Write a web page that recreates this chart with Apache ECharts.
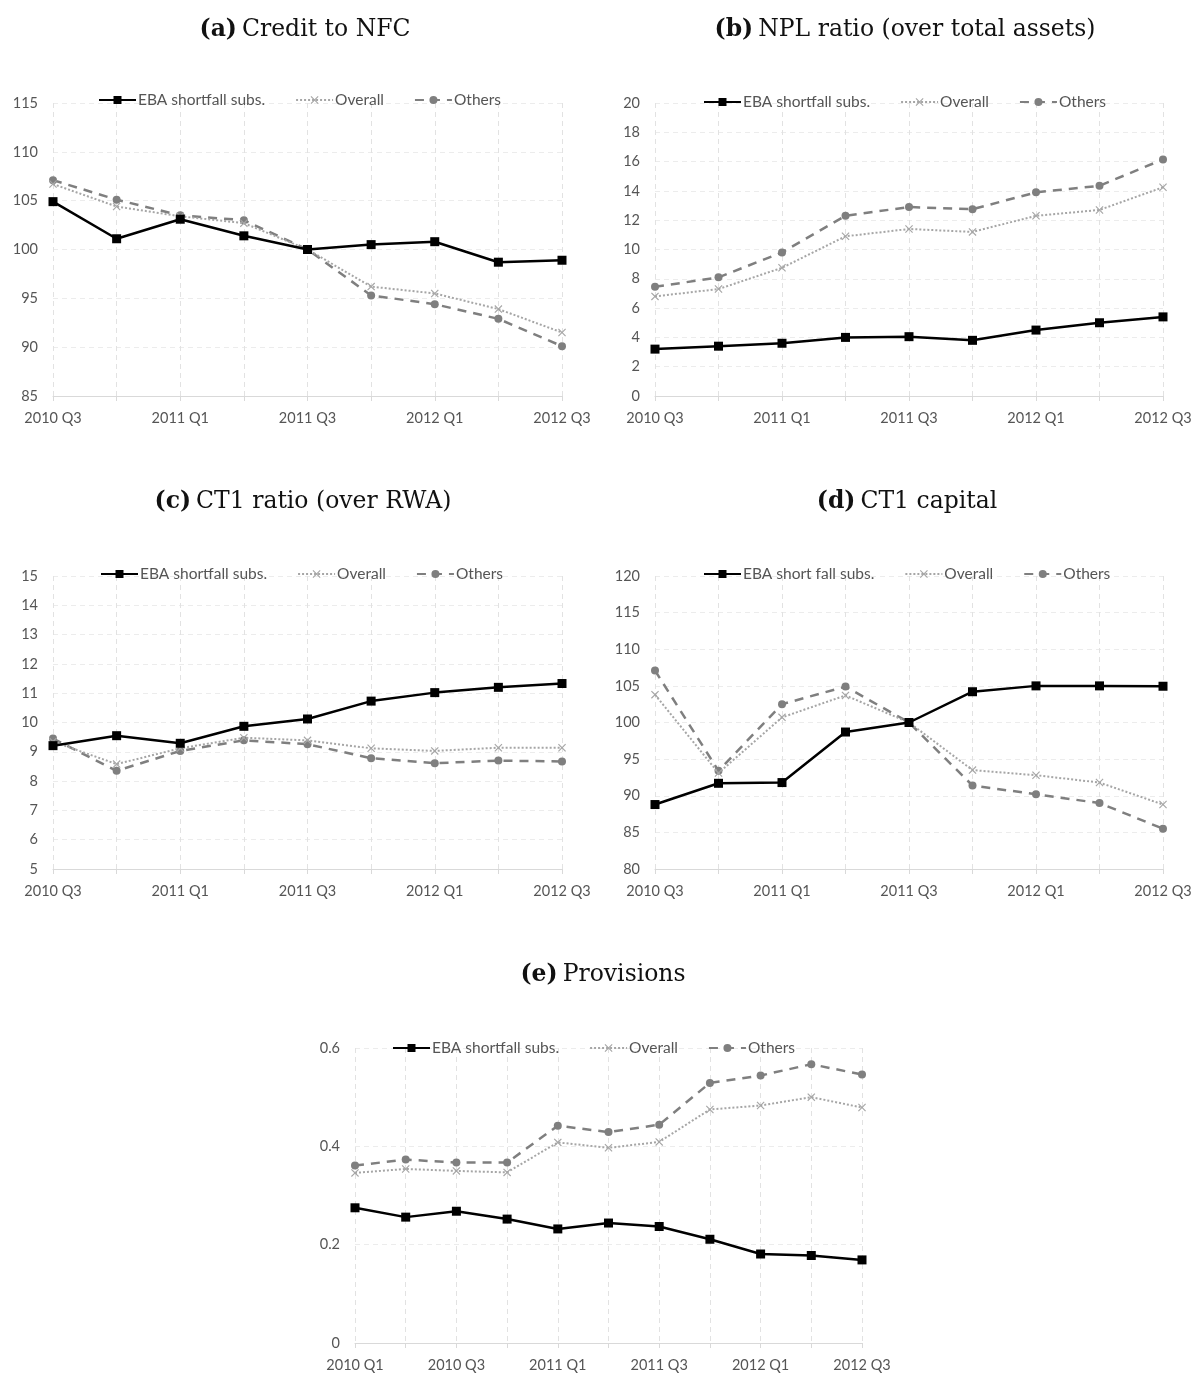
<!DOCTYPE html>
<html>
<head>
<meta charset="utf-8">
<script src="https://cdn.jsdelivr.net/npm/echarts@6/dist/echarts.min.js"></script>
<style>
  html, body { margin: 0; padding: 0; background: #fff; }
  #chart { width: 1196px; height: 1373px; }
</style>
</head>
<body>
<div id="chart"></div>
<script>
// Quarterly categories
const quartersMain = ['2010 Q3','2010 Q4','2011 Q1','2011 Q2','2011 Q3','2011 Q4','2012 Q1','2012 Q2','2012 Q3'];
const quartersProv = ['2010 Q1','2010 Q2','2010 Q3','2010 Q4','2011 Q1','2011 Q2','2011 Q3','2011 Q4','2012 Q1','2012 Q2','2012 Q3'];

// (a) Credit to NFC (index, 2011 Q3 = 100)
const creditEBA     = [104.9, 101.1, 103.1, 101.4, 100.0, 100.5, 100.8, 98.7, 98.9];
const creditOverall = [106.7, 104.4, 103.4, 102.7, 100.0, 96.2, 95.5, 93.9, 91.5];
const creditOthers  = [107.1, 105.1, 103.5, 103.0, 100.0, 95.3, 94.4, 92.9, 90.1];

// (b) NPL ratio (over total assets)
const nplEBA     = [3.2, 3.4, 3.6, 4.0, 4.05, 3.8, 4.5, 5.0, 5.4];
const nplOverall = [6.8, 7.3, 8.75, 10.9, 11.4, 11.2, 12.3, 12.7, 14.25];
const nplOthers  = [7.45, 8.1, 9.8, 12.3, 12.9, 12.75, 13.9, 14.35, 16.15];

// (c) CT1 ratio (over RWA)
const ct1rEBA     = [9.21, 9.55, 9.29, 9.87, 10.12, 10.73, 11.02, 11.2, 11.33];
const ct1rOverall = [9.35, 8.58, 9.12, 9.48, 9.39, 9.12, 9.03, 9.14, 9.14];
const ct1rOthers  = [9.45, 8.35, 9.03, 9.39, 9.26, 8.78, 8.61, 8.7, 8.67];

// (d) CT1 capital (index, 2011 Q3 = 100)
const ct1cEBA     = [88.8, 91.7, 91.8, 98.7, 100.0, 104.2, 105.0, 105.0, 104.95];
const ct1cOverall = [103.8, 93.1, 100.7, 103.7, 100.0, 93.5, 92.8, 91.8, 88.8];
const ct1cOthers  = [107.1, 93.4, 102.5, 104.9, 100.0, 91.4, 90.2, 89.0, 85.5];

// (e) Provisions
const provEBA     = [0.275, 0.256, 0.268, 0.252, 0.232, 0.244, 0.237, 0.211, 0.181, 0.178, 0.169];
const provOverall = [0.346, 0.354, 0.350, 0.347, 0.408, 0.397, 0.409, 0.475, 0.483, 0.500, 0.479];
const provOthers  = [0.361, 0.373, 0.367, 0.367, 0.442, 0.429, 0.444, 0.529, 0.544, 0.567, 0.546];

const panelTitles = [
  ['(a)', 'Credit to NFC'],
  ['(b)', 'NPL ratio (over total assets)'],
  ['(c)', 'CT1 ratio (over RWA)'],
  ['(d)', 'CT1 capital'],
  ['(e)', 'Provisions']
];

const LABEL_COLOR = '#555555';
const SANS = 'Lato, "Open Sans", sans-serif';
const SERIF = '"DejaVu Serif", "Liberation Serif", serif';

// thin filled "x" glyph used for the Overall series
const crossPath = 'path://M0,1 L1,0 L5,4 L9,0 L10,1 L6,5 L10,9 L9,10 L5,6 L1,10 L0,9 L4,5 Z';

// grid boxes: left, right, top, bottom
const grids = [
  { left: 53,  right: 634, top: 103,  bottom: 977 },
  { left: 655, right: 33,  top: 103,  bottom: 977 },
  { left: 53,  right: 634, top: 576,  bottom: 504 },
  { left: 655, right: 33,  top: 576,  bottom: 504 },
  { left: 355, right: 334, top: 1048, bottom: 30 }
];

const yRanges = [
  { min: 85, max: 115, interval: 5 },
  { min: 0,  max: 20,  interval: 2 },
  { min: 5,  max: 15,  interval: 1 },
  { min: 80, max: 120, interval: 5 },
  { min: 0,  max: 0.6, interval: 0.2 }
];

const panelData = [
  { cats: quartersMain, eba: creditEBA, overall: creditOverall, others: creditOthers, ebaName: 'EBA shortfall subs.' },
  { cats: quartersMain, eba: nplEBA,    overall: nplOverall,    others: nplOthers,    ebaName: 'EBA shortfall subs.' },
  { cats: quartersMain, eba: ct1rEBA,   overall: ct1rOverall,   others: ct1rOthers,   ebaName: 'EBA shortfall subs.' },
  { cats: quartersMain, eba: ct1cEBA,   overall: ct1cOverall,   others: ct1cOthers,   ebaName: 'EBA short fall subs.' },
  { cats: quartersProv, eba: provEBA,   overall: provOverall,   others: provOthers,   ebaName: 'EBA shortfall subs.' }
];

const titleCenters = [ [300, 13], [900, 13], [298, 485], [902, 485], [598, 958] ];
const legendLefts = [98, 703, 100, 703, 392];
const legendTops  = [92, 94, 566, 566, 1040];

const option = {
  animation: false,
  backgroundColor: '#fff',
  title: panelTitles.map((t, i) => ({
    text: '{b|' + t[0] + '} {n|' + t[1] + '}',
    left: titleCenters[i][0],
    top: titleCenters[i][1],
    textAlign: 'center',
    textStyle: {
      rich: {
        b: { fontFamily: SERIF, fontWeight: 'bold', fontSize: 23.5, color: '#111' },
        n: { fontFamily: SERIF, fontWeight: 'normal', fontSize: 23.5, color: '#111' }
      }
    }
  })),
  legend: panelData.map((p, i) => ({
    left: legendLefts[i],
    top: legendTops[i],
    padding: 0,
    itemWidth: 37,
    itemHeight: 10,
    itemGap: 30,
    textStyle: { color: LABEL_COLOR, fontFamily: SANS, fontSize: 15.5, padding: [0, 0, 0, -3] },
    data: [p.ebaName, 'Overall', 'Others'],
    selectedMode: false
  })),
  grid: grids,
  xAxis: panelData.map((p, i) => ({
    type: 'category',
    gridIndex: i,
    data: p.cats,
    boundaryGap: false,
    axisLine: { lineStyle: { color: '#d9d9d9', width: 1 } },
    axisTick: { show: true, length: 5, interval: 0, lineStyle: { color: '#d9d9d9' } },
    axisLabel: { interval: 1, color: LABEL_COLOR, fontFamily: SANS, fontSize: 14.5, margin: 15 },
    splitLine: { show: true, interval: 0, lineStyle: { color: '#e2e2e2', type: [5, 4], width: 1 } }
  })),
  yAxis: yRanges.map((r, i) => ({
    type: 'value',
    gridIndex: i,
    min: r.min,
    max: r.max,
    interval: r.interval,
    axisLine: { show: false },
    axisTick: { show: false },
    axisLabel: {
      color: LABEL_COLOR, fontFamily: SANS, fontSize: 14.5, margin: 15,
      formatter: v => (r.interval < 1 ? (v === 0 ? '0' : v.toFixed(1)) : String(v))
    },
    splitLine: { show: true, lineStyle: { color: '#ececec', type: [5, 4], width: 1 } }
  })),
  series: []
};

panelData.forEach((p, i) => {
  option.series.push({
    name: 'Others',
    type: 'line',
    xAxisIndex: i, yAxisIndex: i,
    data: p.others,
    symbol: 'circle',
    symbolSize: 8,
    lineStyle: { color: '#7f7f7f', width: 2.5, type: [9, 7] },
    itemStyle: { color: '#7f7f7f' },
    z: 2
  });
  option.series.push({
    name: 'Overall',
    type: 'line',
    xAxisIndex: i, yAxisIndex: i,
    data: p.overall,
    symbol: crossPath,
    symbolSize: 8,
    lineStyle: { color: '#a6a6a6', width: 2, type: [2, 2] },
    itemStyle: { color: '#a6a6a6' },
    z: 3
  });
  option.series.push({
    name: p.ebaName,
    type: 'line',
    xAxisIndex: i, yAxisIndex: i,
    data: p.eba,
    symbol: 'rect',
    symbolSize: 9,
    lineStyle: { color: '#000', width: 2.5 },
    itemStyle: { color: '#000' },
    z: 4
  });
});

const chart = echarts.init(document.getElementById('chart'), null, { renderer: 'canvas' });
chart.setOption(option);
</script>
</body>
</html>
